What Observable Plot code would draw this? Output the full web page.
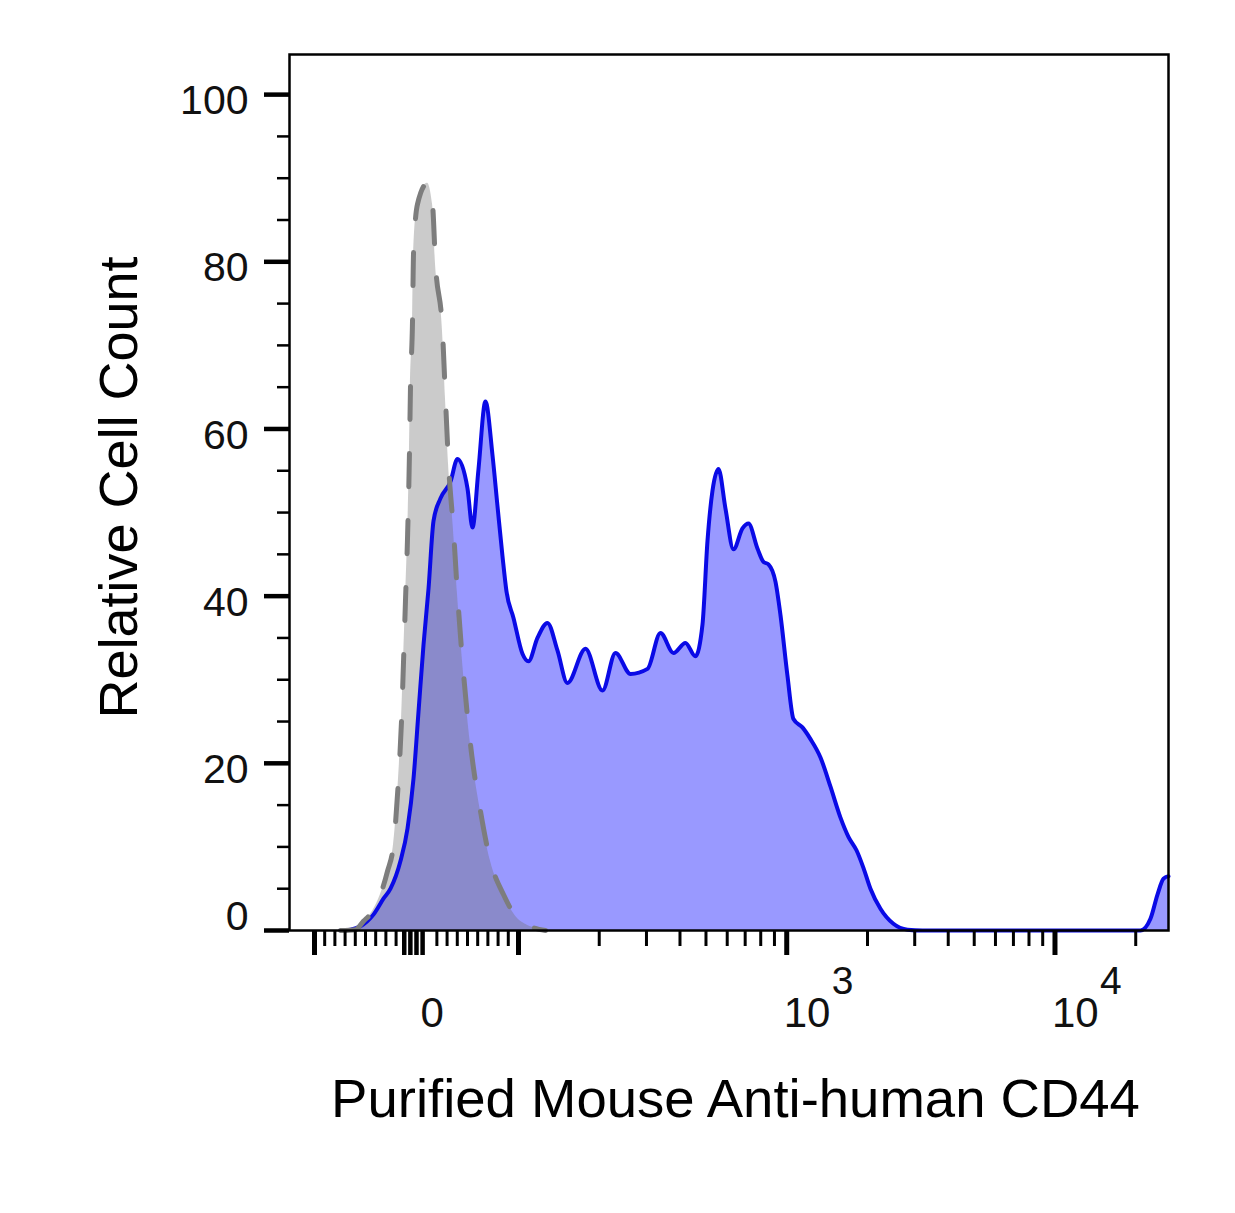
<!DOCTYPE html>
<html>
<head>
<meta charset="utf-8">
<script src="https://cdn.jsdelivr.net/npm/d3@7"></script>
<script src="https://cdn.jsdelivr.net/npm/@observablehq/plot@0.6"></script>
<style>
  html, body { margin: 0; padding: 0; background: #fff; }
</style>
</head>
<body>
<div id="chart"></div>
<script>
// ---- Texts ----
const xTitle = "Purified Mouse Anti-human CD44";
const yTitle = "Relative Cell Count";

// ---- Data: positions on the biexponential display axis (0 -> 0, 100 -> 1) ----
// Isotype control (grey, dashed)
const isoPos   = [-0.745,-0.598,-0.520,-0.431,-0.353,-0.284,-0.225,-0.176,-0.147,-0.127,-0.108,-0.088,-0.069,-0.059,-0.039,-0.029,0.010,0.108,0.157,0.186,0.255,0.284,0.314,0.363,0.402,0.451,0.529,0.627,0.725,0.853,1.020,1.265];
const isoCount = [0,0.1,1.1,2.3,4.3,7.1,10.3,18.2,25.0,32.2,39.4,46.9,57.0,64.9,72.9,81.0,86.9,89.4,86.9,79.8,71.7,63.7,55.8,47.8,40.2,32.2,22.3,14.3,8.3,4.3,1.1,0];

// CD44 stained (blue)
const cd44Pos   = [-0.745,-0.647,-0.549,-0.422,-0.324,-0.255,-0.157,-0.088,-0.029,0.020,0.069,0.118,0.167,0.235,0.333,0.402,0.500,0.549,0.608,0.676,0.745,0.794,0.843,0.882,0.951,1.039,1.098,1.186,1.284,1.382,1.480,1.657,1.824,1.951,2.098,2.265,2.392,2.520,2.637,2.735,2.804,2.853,2.902,2.961,3.029,3.108,3.196,3.255,3.343,3.402,3.451,3.520,3.569,3.637,3.696,3.784,3.863,3.961,4.059,4.157,4.235,4.314,4.382,4.451,4.549,4.676,4.814,4.961,7.098,7.196,7.265,7.324,7.373];
const cd44Count = [0,0.1,0.5,1.9,3.8,5.0,8.3,12.2,18.2,26.2,34.2,40.9,49.0,51.7,53.7,56.4,52.9,48.2,55.2,63.3,56.9,50.8,44.8,40.6,37.4,33.1,32.2,35.0,36.8,33.5,29.6,33.7,28.7,33.2,30.7,31.3,35.6,33.2,34.4,32.8,36.6,46.6,52.6,55.2,50.5,45.6,48.1,48.7,45.7,44.1,43.8,41.7,37.7,30.5,25.3,24.3,22.9,20.7,17.2,13.5,11.2,9.6,7.5,5.0,2.6,0.8,0.1,0,0,1.4,4.3,6.2,6.5];

// ---- Ticks ----
const yMajor = [0, 20, 40, 60, 80, 100];
const yMinor = [5,10,15,25,30,35,45,50,55,65,70,75,85,90,95];
const xLong = [-100, 100, 1000, 10000];
const xCluster = [-12, -6, 0, 6];
const xMinor = [-90,-80,-70,-60,-50,-40,-30,-20, 20,30,40,50,60,70,80,90,
                200,300,400,500,600,700,800,900,
                2000,3000,4000,5000,6000,7000,8000,9000, 20000];
const xLabelValues = [0, 1000, 10000];
const xLabelBase   = ["0", "10", "10"];
const xLabelExp    = ["", "3", "4"];

// biexponential-like display transform: linear near zero, log above 100
function biex(v) {
  const a = Math.abs(v);
  if (a <= 100) return v / 100;
  return Math.sign(v) * (1 + Math.log10(a / 100) * 2.63);
}

const iso = isoPos.map((p, i) => ({pos: p, count: isoCount[i]}));
const cd44 = cd44Pos.map((p, i) => ({pos: p, count: cd44Count[i]}));
const xLabels = xLabelValues.map((v, i) => ({pos: biex(v), base: xLabelBase[i], exp: xLabelExp[i]}));

const font = "'Liberation Sans', Arial, Helvetica, sans-serif";

const chart = Plot.plot({
  width: 1235,
  height: 1213,
  marginLeft: 289,
  marginRight: 67,
  marginTop: 54,
  marginBottom: 283,
  style: {fontFamily: font, background: "#fff", color: "#000"},
  x: {domain: [-1.245, 7.373], axis: null, label: null},
  y: {domain: [0, 104.8], axis: null, label: null},
  marks: [
    Plot.areaY(cd44, {x: "pos", y: "count", fill: "#0000ff", fillOpacity: 0.4, curve: "monotone-x"}),
    Plot.areaY(iso, {x: "pos", y: "count", fill: "#6e6e6e", fillOpacity: 0.36, curve: "monotone-x"}),
    Plot.lineY(cd44, {x: "pos", y: "count", stroke: "#0a0ae6", strokeWidth: 4, curve: "monotone-x"}),
    Plot.lineY(iso, {x: "pos", y: "count", stroke: "#7d7d7d", strokeWidth: 5, strokeDasharray: "33,34", curve: "monotone-x"}),
    Plot.frame({stroke: "#000", strokeWidth: 2.5}),

    // y ticks
    Plot.axisY({ticks: yMajor, anchor: "left", tickSize: 25, strokeWidth: 4.5, tickFormat: () => "", label: null}),
    Plot.axisY({ticks: yMinor, anchor: "left", tickSize: 12, strokeWidth: 2.5, tickFormat: () => "", label: null}),
    Plot.text(yMajor.filter(d => d > 0), {y: d => d, text: d => String(d), frameAnchor: "left", textAnchor: "end", dx: -41, dy: 6.5, fontSize: 41, fill: "#111"}),
    Plot.text(yMajor.filter(d => d === 0), {y: d => d, text: d => String(d), frameAnchor: "left", textAnchor: "end", dx: -41, dy: -13.5, fontSize: 41, fill: "#111"}),

    // x ticks
    Plot.axisX({ticks: xLong.map(biex), anchor: "bottom", tickSize: 25, strokeWidth: 5, tickFormat: () => "", label: null}),
    Plot.axisX({ticks: xCluster.map(biex), anchor: "bottom", tickSize: 25, strokeWidth: 4.5, tickFormat: () => "", label: null}),
    Plot.axisX({ticks: xMinor.map(biex), anchor: "bottom", tickSize: 16, strokeWidth: 3, tickFormat: () => "", label: null}),
    Plot.text(xLabels.filter(d => d.exp === ""), {x: "pos", text: "base", frameAnchor: "bottom", textAnchor: "start", lineAnchor: "bottom", dx: 4, dy: 96, fontSize: 42, fill: "#111"}),
    Plot.text(xLabels.filter(d => d.exp !== ""), {x: "pos", text: "base", frameAnchor: "bottom", textAnchor: "start", lineAnchor: "bottom", dx: -3, dy: 96, fontSize: 42, fill: "#111"}),
    Plot.text(xLabels.filter(d => d.exp !== ""), {x: "pos", text: "exp", frameAnchor: "bottom", textAnchor: "start", lineAnchor: "bottom", dx: 45, dy: 63, fontSize: 39, fill: "#111"}),

    // titles
    Plot.text([xTitle], {text: d => d, frameAnchor: "bottom", textAnchor: "middle", lineAnchor: "bottom", dx: 6.5, dy: 186, fontSize: 54.5, fill: "#000"}),
    Plot.text([yTitle], {text: d => d, frameAnchor: "left", textAnchor: "middle", rotate: -90, lineAnchor: "bottom", dx: -153, dy: -5, fontSize: 54, fill: "#000"})
  ]
});

document.getElementById("chart").appendChild(chart);
</script>
</body>
</html>
